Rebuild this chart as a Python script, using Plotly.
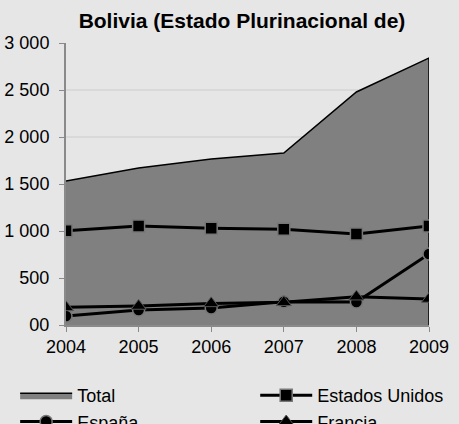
import plotly.graph_objects as go

years = [2004, 2005, 2006, 2007, 2008, 2009]
total = [1532, 1670, 1766, 1830, 2479, 2840]
estados_unidos = [1003, 1053, 1028, 1018, 968, 1053]
espana = [96, 160, 180, 248, 245, 755]
francia = [188, 202, 230, 241, 301, 277]

y_ticks = [0, 500, 1000, 1500, 2000, 2500, 3000]
y_labels = ['00', '500', '1 000', '1 500', '2 000', '2 500', '3 000']

fig = go.Figure()

# área del total, cerrada hasta el eje en 2009
fig.add_trace(go.Scatter(
    x=years + [years[-1]], y=total + [0],
    name='Total', mode='lines', fill='tozeroy',
    fillcolor='#808080', line=dict(color='black', width=1.5),
    legend='legend',
))

line_kw = dict(mode='lines+markers', line=dict(color='black', width=3))
fig.add_trace(go.Scatter(
    x=years, y=estados_unidos, name='Estados Unidos',
    marker=dict(symbol='square', size=12, color='black',
                line=dict(color='#777777', width=1.5)),
    legend='legend2', **line_kw,
))
fig.add_trace(go.Scatter(
    x=years, y=espana, name='España',
    marker=dict(symbol='circle', size=12, color='black',
                line=dict(color='#777777', width=1.5)),
    legend='legend', **line_kw,
))
fig.add_trace(go.Scatter(
    x=years, y=francia, name='Francia',
    marker=dict(symbol='triangle-up', size=13, color='black',
                line=dict(color='#555555', width=1)),
    legend='legend2', **line_kw,
))

# leyendas horizontales con entradas anchas -> una entrada por fila
legend_kw = dict(orientation='h', xref='container', yref='container',
                 xanchor='left', yanchor='top', itemwidth=52,
                 entrywidth=150, entrywidthmode='pixels',
                 bgcolor='rgba(0,0,0,0)', font=dict(size=18),
                 tracegroupgap=0)

fig.update_layout(
    width=459, height=424,
    paper_bgcolor='#e6e6e6', plot_bgcolor='#e6e6e6',
    font=dict(family='Liberation Sans, Arial', size=18, color='black'),
    margin=dict(l=66, r=30, t=43, b=99),
    title=dict(text='<b>Bolivia (Estado Plurinacional de)</b>',
               x=242 / 459, xanchor='center', xref='container',
               y=1 - 21 / 424, yanchor='middle', yref='container',
               font=dict(size=21)),
    showlegend=True,
    legend=dict(x=0.033, y=0.111, **legend_kw),
    legend2=dict(x=0.556, y=0.111, **legend_kw),
)
fig.update_xaxes(
    range=[2004, 2009], tickvals=years, showgrid=False,
    showline=True, linecolor='#8a8a8a', linewidth=1.5,
    ticks='outside', ticklen=5, tickcolor='#8a8a8a', zeroline=False,
    automargin=False,
)
fig.update_yaxes(
    range=[0, 3000], tickvals=y_ticks, ticktext=y_labels,
    showgrid=True, gridcolor='#d9d9d9', gridwidth=1.5,
    showline=True, linecolor='#8a8a8a', linewidth=2,
    ticks='outside', ticklen=5, tickcolor='#8a8a8a', zeroline=False,
    ticklabelstandoff=6, automargin=False,
)

fig.write_html('out.html', config={'displayModeBar': False},
               post_script="document.body.style.margin='0';")
